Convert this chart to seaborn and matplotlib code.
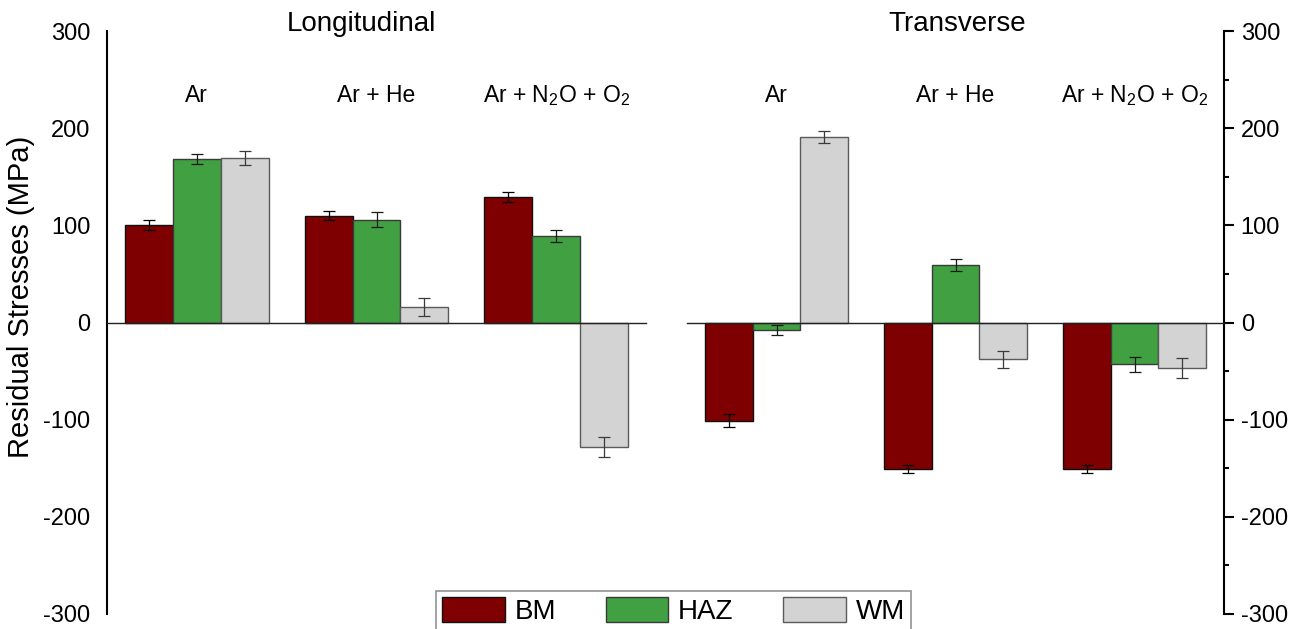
import numpy as np
import pandas as pd
import matplotlib
matplotlib.use("Agg")
import matplotlib.pyplot as plt
from matplotlib.ticker import MultipleLocator
import seaborn as sns

# ── Data (MPa) ──────────────────────────────────────────────────────────────
gases = ["Ar", "Ar + He", "Ar + N2O + O2"]
gas_labels = ["Ar", "Ar + He", "Ar + N$_2$O + O$_2$"]
zones = ["BM", "HAZ", "WM"]

long_bm = [100, 110, 129]
long_haz = [168, 106, 89]
long_wm = [169, 16, -128]
long_bm_err = [5, 5, 5]
long_haz_err = [5, 8, 6]
long_wm_err = [7, 9, 10]

trans_bm = [-101, -151, -151]
trans_haz = [-8, 59, -43]
trans_wm = [191, -38, -47]
trans_bm_err = [7, 4, 4]
trans_haz_err = [5, 6, 8]
trans_wm_err = [6, 9, 10]

yticks = [-300, -200, -100, 0, 100, 200, 300]

# ── Styling ─────────────────────────────────────────────────────────────────
sns.set_style("white")
plt.rcParams["font.family"] = ["Liberation Sans", "DejaVu Sans"]
plt.rcParams["mathtext.default"] = "regular"
plt.rcParams["axes.unicode_minus"] = False
for key in ["text.color", "axes.labelcolor", "xtick.color", "ytick.color"]:
    plt.rcParams[key] = "black"

colors = {"BM": "#7f0000", "HAZ": "#41a041", "WM": "#d3d3d3"}
edges = {"BM": "#101010", "HAZ": "#3a3a3a", "WM": "#5a5a5a"}
err_colors = {"BM": "#000000", "HAZ": "#1a1a1a", "WM": "#3a3a3a"}


def make_frame(bm, haz, wm, bm_e, haz_e, wm_e):
    rows = []
    for zone, vals, errs in zip(zones, [bm, haz, wm], [bm_e, haz_e, wm_e]):
        for g, v, e in zip(gases, vals, errs):
            rows.append({"Gas": g, "Zone": zone, "Stress": v, "Err": e})
    return pd.DataFrame(rows)


df_long = make_frame(long_bm, long_haz, long_wm, long_bm_err, long_haz_err, long_wm_err)
df_trans = make_frame(trans_bm, trans_haz, trans_wm, trans_bm_err, trans_haz_err, trans_wm_err)

fig = plt.figure(figsize=(12.99, 6.29), dpi=100)
ax_l = fig.add_axes([107 / 1299, 15 / 629, 539 / 1299, 583 / 629])
ax_r = fig.add_axes([687 / 1299, 15 / 629, 537 / 1299, 583 / 629])


def draw_panel(ax, df):
    sns.barplot(data=df, x="Gas", y="Stress", hue="Zone", order=gases,
                hue_order=zones, palette=colors, errorbar=None, width=0.8,
                ax=ax, linewidth=1.0, saturation=1)
    for zone, cont in zip(zones, ax.containers):
        errs = df[df["Zone"] == zone].set_index("Gas").loc[gases, "Err"].values
        for bar, e in zip(cont, errs):
            bar.set_edgecolor(edges[zone])
            bar.set_linewidth(1.0)
            x = bar.get_x() + bar.get_width() / 2
            y = bar.get_y() + bar.get_height()
            ax.errorbar(x, y, yerr=e, color=err_colors[zone], elinewidth=0.9,
                        capsize=4.3, capthick=0.9, fmt="none", zorder=3)
    if ax.get_legend() is not None:
        ax.get_legend().remove()

    ax.set_xlim(-0.5, 2.5)
    ax.set_ylim(-300, 300)
    ax.set_yticks(yticks)
    ax.yaxis.set_minor_locator(MultipleLocator(50))
    ax.set_xlabel("")
    ax.set_ylabel("")
    ax.set_xticks(range(len(gases)))
    ax.set_xticklabels([""] * len(gases))
    ax.set_axisbelow(True)
    ax.spines["top"].set_visible(False)
    ax.spines["bottom"].set_position(("data", 0))
    ax.spines["bottom"].set_linewidth(1.0)
    ax.spines["bottom"].set_color("#222222")
    ax.tick_params(axis="x", direction="out", length=7, width=1.5, color="#111111")
    ax.tick_params(axis="y", which="major", direction="out", length=7, width=1.5,
                   labelsize=17, pad=5)
    ax.tick_params(axis="y", which="minor", direction="out", length=3.5, width=1.5)
    for i, lab in enumerate(gas_labels):
        ax.text(i, 234, lab, ha="center", va="center", fontsize=16.5)


draw_panel(ax_l, df_long)
draw_panel(ax_r, df_trans)

# left panel: left axis only
ax_l.spines["right"].set_visible(False)
ax_l.spines["left"].set_linewidth(1.5)
ax_l.spines["left"].set_color("black")
ax_l.set_ylabel("Residual Stresses (MPa)", fontsize=21)
ax_l.yaxis.set_label_coords(-0.134, 0.544)

# right panel: right axis only
ax_r.spines["left"].set_visible(False)
ax_r.spines["right"].set_linewidth(1.5)
ax_r.spines["right"].set_color("black")
ax_r.yaxis.tick_right()
ax_r.yaxis.set_label_position("right")
ax_r.tick_params(axis="y", which="both", left=False, right=True)

fig.text(361 / 1299, 1 - 24 / 629, "Longitudinal", ha="center", va="center", fontsize=20)
fig.text(957 / 1299, 1 - 24 / 629, "Transverse", ha="center", va="center", fontsize=20)

# legend (partly cut by the figure's lower edge, as in the original)
handles = [plt.Rectangle((0, 0), 1, 1, facecolor=colors[z], edgecolor=edges[z],
                         linewidth=1.0) for z in zones]
leg = fig.legend(handles, zones, loc="upper center", ncol=3,
                 bbox_to_anchor=(673.5 / 1299, 1 - 591 / 629), fontsize=20,
                 frameon=True, fancybox=False, edgecolor="#777777",
                 handlelength=2.25, handleheight=1.05, handletextpad=0.35,
                 columnspacing=1.8, borderpad=0.2, borderaxespad=0)
leg.get_frame().set_linewidth(1.2)

plt.savefig("out.png", dpi=100)
plt.close()
